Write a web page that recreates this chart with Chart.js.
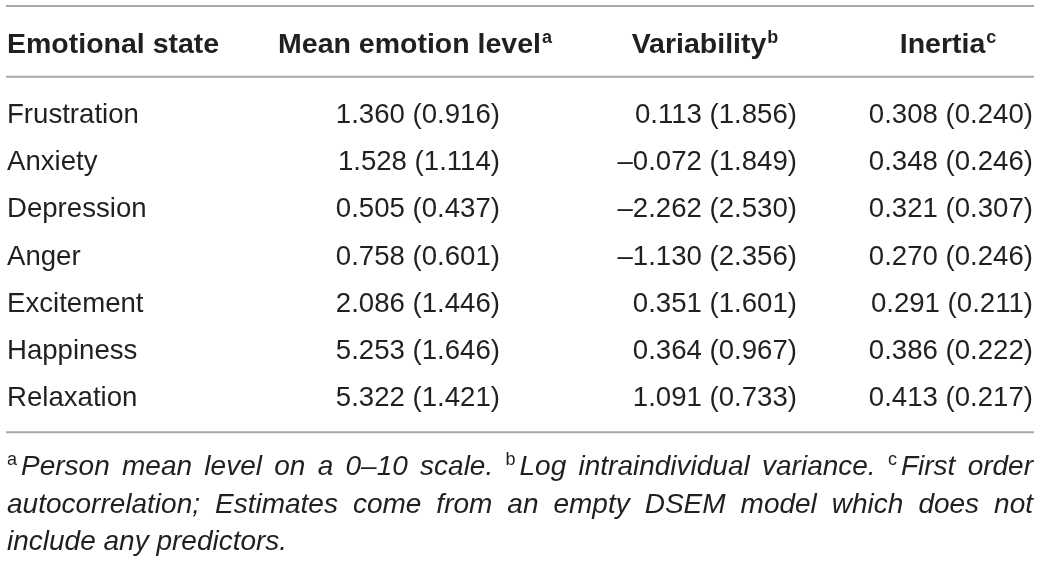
<!DOCTYPE html>
<html>
<head>
<meta charset="utf-8">
<script src="https://cdn.jsdelivr.net/npm/chart.js@4.4.1/dist/chart.umd.min.js"></script>
<style>
  html, body { margin: 0; padding: 0; background: #ffffff; }
  #table { display: block; }
</style>
</head>
<body>
<canvas id="table" width="1041" height="561"></canvas>
<script>
"use strict";

// table data
const emotions = ['Frustration', 'Anxiety', 'Depression', 'Anger', 'Excitement', 'Happiness', 'Relaxation'];
const meanLevel = [1.360, 1.528, 0.505, 0.758, 2.086, 5.253, 5.322];
const meanLevelSD = [0.916, 1.114, 0.437, 0.601, 1.446, 1.646, 1.421];
const variability = [0.113, -0.072, -2.262, -1.130, 0.351, 0.364, 1.091];
const variabilitySD = [1.856, 1.849, 2.530, 2.356, 1.601, 0.967, 0.733];
const inertia = [0.308, 0.348, 0.321, 0.270, 0.291, 0.386, 0.413];
const inertiaSD = [0.240, 0.246, 0.307, 0.246, 0.211, 0.222, 0.217];

const headers = ['Emotional state', 'Mean emotion level', 'Variability', 'Inertia'];
const headerNotes = ['', 'a', 'b', 'c'];

// footnote lines: [superscript, text] pieces, last line is not justified
const footnoteLines = [
    [['a', 'Person mean level on a 0\u201310 scale.'], ['b', 'Log intraindividual variance.'], ['c', 'First order']],
    [['', 'autocorrelation; Estimates come from an empty DSEM model which does not']],
    [['', 'include any predictors.']],
];

// layout (canvas px)
const FONT = '"Liberation Sans", Arial, Helvetica, sans-serif';
const INK = '#231f20';
const RULE = '#a8a8a8';
const LEFT = 6;
const RIGHT = 1034;
const firstColX = 7;
const valueColX = [500, 797, 1033];
const headerCenterX = [null, 415, 705, 948];

function fmt(v) {
    const s = Math.abs(v).toFixed(3);
    return v < 0 ? '\u2013' + s : s;
}

function cell(values, sds) {
    return values.map(function (v, i) {
        return fmt(v) + ' (' + fmt(sds[i]) + ')';
    });
}

const columns = [
    { x: firstColX, align: 'left', texts: emotions },
    { x: valueColX[0], align: 'right', texts: cell(meanLevel, meanLevelSD) },
    { x: valueColX[1], align: 'right', texts: cell(variability, variabilitySD) },
    { x: valueColX[2], align: 'right', texts: cell(inertia, inertiaSD) },
];

function drawSup(ctx, main, sup, x, y, mainFont, supFont) {
    ctx.font = mainFont;
    ctx.fillText(main, x, y);
    const w = ctx.measureText(main).width;
    if (sup) {
        ctx.font = supFont;
        ctx.fillText(sup, x + w + 1, y - 10);
    }
}

function widthSup(ctx, main, sup, mainFont, supFont) {
    ctx.font = mainFont;
    let w = ctx.measureText(main).width;
    if (sup) {
        ctx.font = supFont;
        w += ctx.measureText(sup).width + 1;
    }
    return w;
}

const tablePlugin = {
    id: 'tablePlugin',
    afterDatasetsDraw(chart) {
        const ctx = chart.ctx;
        const area = chart.chartArea;
        const yScale = chart.scales.y;
        const band = yScale.getPixelForValue(1) - yScale.getPixelForValue(0);
        const firstRow = yScale.getPixelForValue(0);
        const lastRow = yScale.getPixelForValue(emotions.length - 1);

        ctx.save();
        ctx.fillStyle = INK;
        ctx.textBaseline = 'alphabetic';

        // rules
        ctx.strokeStyle = RULE;
        ctx.lineWidth = 2;
        [6, firstRow - 46.3, lastRow + 26].forEach(function (y) {
            ctx.beginPath();
            ctx.moveTo(LEFT, y);
            ctx.lineTo(RIGHT, y);
            ctx.stroke();
        });

        // header
        const headY = firstRow - band * 1.5 + 0.8;
        const hFont = 'bold 28.5px ' + FONT;
        const hSup = 'bold 18px ' + FONT;
        headers.forEach(function (h, i) {
            ctx.textAlign = 'left';
            let x = firstColX;
            if (headerCenterX[i] !== null) {
                x = headerCenterX[i] - widthSup(ctx, h, headerNotes[i], hFont, hSup) / 2;
            }
            drawSup(ctx, h, headerNotes[i], x, headY, hFont, hSup);
        });

        // body cells, placed on the dataset points
        ctx.font = '27.6px ' + FONT;
        chart.data.datasets.forEach(function (ds, di) {
            const meta = chart.getDatasetMeta(di);
            ctx.textAlign = ds.align;
            meta.data.forEach(function (pt, i) {
                ctx.fillText(ds.texts[i], pt.x, pt.y);
            });
        });

        // footnotes
        const fFont = 'italic 28px ' + FONT;
        const fSup = '18px ' + FONT;
        ctx.textAlign = 'left';
        footnoteLines.forEach(function (line, li) {
            const y = lastRow + 69 + li * 37.5;
            const words = [];
            line.forEach(function (piece) {
                piece[1].split(' ').forEach(function (w, wi) {
                    words.push({ sup: wi === 0 ? piece[0] : '', text: w });
                });
            });
            ctx.font = fFont;
            let total = 0;
            words.forEach(function (w) {
                w.width = widthSup(ctx, w.text, w.sup, fFont, fSup) + (w.sup ? 3 : 0);
                total += w.width;
            });
            const justify = li < footnoteLines.length - 1;
            const spaceW = ctx.measureText(' ').width;
            const gap = justify ? (RIGHT - 1 - firstColX - total) / (words.length - 1) : spaceW;
            let x = firstColX;
            words.forEach(function (w) {
                if (w.sup) {
                    ctx.font = fSup;
                    ctx.fillText(w.sup, x, y - 10);
                    const sw = ctx.measureText(w.sup).width + 4;
                    ctx.font = fFont;
                    ctx.fillText(w.text, x + sw, y);
                } else {
                    ctx.font = fFont;
                    ctx.fillText(w.text, x, y);
                }
                x += w.width + gap;
            });
        });

        ctx.restore();
    },
};

function boot() {
    const canvas = document.getElementById('table');
    const band = 47.2;
    const firstBaseline = 123;
    const top = firstBaseline - band / 2;
    const bottom = 561 - (top + band * emotions.length);

    new Chart(canvas.getContext('2d'), {
        type: 'scatter',
        data: {
            datasets: columns.map(function (col) {
                return {
                    data: emotions.map(function (e) { return { x: col.x, y: e }; }),
                    texts: col.texts,
                    align: col.align,
                    pointRadius: 0,
                    pointHoverRadius: 0,
                };
            }),
        },
        options: {
            responsive: false,
            animation: false,
            devicePixelRatio: 1,
            layout: { padding: { top: top, bottom: bottom, left: 0, right: 0 } },
            plugins: { legend: { display: false }, tooltip: { enabled: false } },
            events: [],
            scales: {
                x: { type: 'linear', min: 0, max: 1041, display: false },
                y: { type: 'category', labels: emotions, offset: true, display: false },
            },
        },
        plugins: [tablePlugin],
    });
}

boot();
</script>
</body>
</html>
